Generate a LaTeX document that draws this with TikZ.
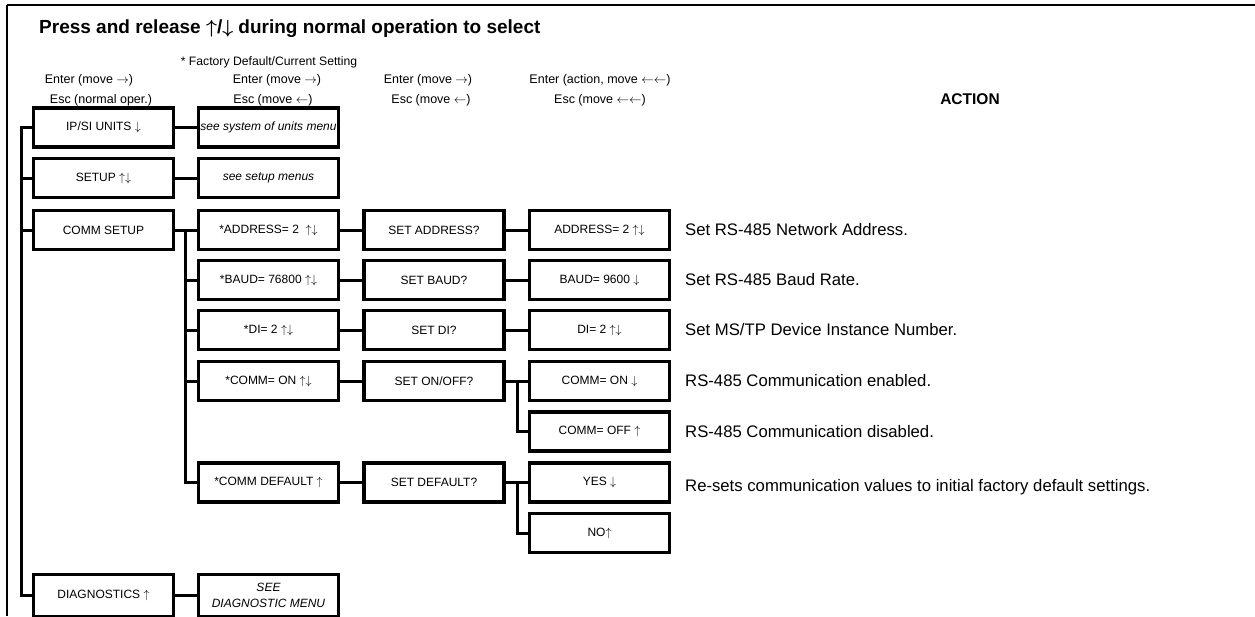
\RequirePackage{fix-cm}
\documentclass[tikz,border=0pt]{standalone}
\usepackage{fontspec}
\setmainfont{Liberation Sans}
\newcommand\arU{$\uparrow$}
\newcommand\arD{$\downarrow$}
\newcommand\arR{$\rightarrow$}
\newcommand\arL{$\leftarrow$}
\begin{document}
\begin{tikzpicture}[x=1pt,y=-1pt,
  menubox/.style={draw, line width=3.2pt, minimum width=140pt, minimum height=39pt,
    inner sep=0pt, align=center, font=\fontsize{12}{16}\selectfont},
  itbox/.style={menubox, font=\fontsize{12}{16}\selectfont\itshape},
  tallbox/.style={minimum height=42pt},
  link/.style={line width=3pt, line join=miter},
  hdr/.style={inner sep=0pt, font=\fontsize{12.5}{15}\selectfont},
  note/.style={inner sep=0pt, anchor=west, font=\fontsize{16.7}{19}\selectfont}]
\useasboundingbox (0,0) rectangle (1255,616);
\clip (0,0) rectangle (1255,616);

% frame
\draw[line width=2pt] (7,5) -- (1255,5);
\draw[line width=1.3pt] (7,5) -- (7,616);

% heading and column captions
\node[inner sep=0pt, anchor=west, font=\fontsize{19}{22}\selectfont\bfseries\boldmath] (title) at (39,29)
  {Press and release \arU/\arD\ during normal operation to select};
\node[hdr, font=\fontsize{12.2}{15}\selectfont] (fact) at (269,62) {* Factory Default/Current Setting};
\node[hdr] (en1) at (89,80) {Enter (move \arR)};
\node[hdr] (es1) at (101,100) {Esc (normal oper.)};
\node[hdr] (en2) at (277,80) {Enter (move \arR)};
\node[hdr] (es2) at (273,100) {Esc (move \arL)};
\node[hdr] (en3) at (428,80) {Enter (move \arR)};
\node[hdr] (es3) at (431,100) {Esc (move \arL)};
\node[hdr] (en4) at (600,80) {Enter (action, move \arL\arL)};
\node[hdr] (es4) at (600,100) {Esc (move \arL\arL)};
\node[inner sep=0pt, font=\fontsize{15.5}{18}\selectfont\bfseries] (act) at (970,99) {ACTION};

% first level
\node[menubox] (ip) at (103.5,127.5) {IP/SI UNITS \arD};
\node[menubox] (setup) at (103.5,178) {SETUP \arU\arD};
\node[menubox] (comm) at (103.5,230) {COMM SETUP};
\node[menubox, tallbox] (diag) at (103.5,595.5) {DIAGNOSTICS \arU};

% second level
\node[itbox] (units) at (268.5,127.5) {see system of units menu};
\node[itbox] (setupm) at (268.5,178) {see setup menus};
\node[menubox] (addr) at (268.5,230) {*ADDRESS= 2~ \arU\arD};
\node[menubox] (baud) at (268.5,280) {*BAUD= 76800 \arU\arD};
\node[menubox] (di) at (268.5,330) {*DI= 2 \arU\arD};
\node[menubox] (con) at (268.5,381) {*COMM= ON \arU\arD};
\node[menubox] (cdef) at (268.5,482.5) {*COMM DEFAULT \arU};
\node[itbox, tallbox] (diagm) at (268.5,595.5) {SEE\\DIAGNOSTIC MENU};

% third level
\node[menubox] (setaddr) at (434,230) {SET ADDRESS?};
\node[menubox] (setbaud) at (434,280) {SET BAUD?};
\node[menubox] (setdi) at (434,330) {SET DI?};
\node[menubox] (setonoff) at (434,381) {SET ON/OFF?};
\node[menubox] (setdef) at (434,482.5) {SET DEFAULT?};

% fourth level
\node[menubox] (vaddr) at (599.5,230) {ADDRESS= 2 \arU\arD};
\node[menubox] (vbaud) at (599.5,280) {BAUD= 9600 \arD};
\node[menubox] (vdi) at (599.5,330) {DI= 2 \arU\arD};
\node[menubox] (von) at (599.5,381) {COMM= ON \arD};
\node[menubox] (voff) at (599.5,431.5) {COMM= OFF \arU};
\node[menubox] (yes) at (599.5,482.5) {YES \arD};
\node[menubox] (no) at (599.5,533) {NO\arU};

% actions
\node[note] (naddr) at (685,230) {Set RS-485 Network Address.};
\node[note] (nbaud) at (685,280) {Set RS-485 Baud Rate.};
\node[note] (ndi) at (685,330) {Set MS/TP Device Instance Number.};
\node[note] (non) at (685,381) {RS-485 Communication enabled.};
\node[note] (noff) at (685,431.5) {RS-485 Communication disabled.};
\node[note] (ndef) at (685,487) {Re-sets communication values to initial factory default settings.};

% bus of the first level
\coordinate (b1a) at (21,127.5);
\coordinate (b1b) at (21,595.5);
\draw[link] (ip.west) -- (b1a) -- (b1b) -- (diag.west);
\draw[link] (setup.west) -- (setup.west -| b1a);
\draw[link] (comm.west) -- (comm.west -| b1a);

% first to second level
\draw[link] (ip.east) -- (units.west);
\draw[link] (setup.east) -- (setupm.west);
\draw[link] (diag.east) -- (diagm.west);
\draw[link] (comm.east) -- (addr.west);

% bus of the comm setup items
\coordinate (b2a) at (185,230);
\coordinate (b2b) at (185,482.5);
\draw[link] (b2a) -- (b2b) -- (cdef.west);
\draw[link] (baud.west) -- (baud.west -| b2a);
\draw[link] (di.west) -- (di.west -| b2a);
\draw[link] (con.west) -- (con.west -| b2a);

% second to third level
\draw[link] (addr.east) -- (setaddr.west);
\draw[link] (baud.east) -- (setbaud.west);
\draw[link] (di.east) -- (setdi.west);
\draw[link] (con.east) -- (setonoff.west);
\draw[link] (cdef.east) -- (setdef.west);

% third to fourth level
\draw[link] (setaddr.east) -- (vaddr.west);
\draw[link] (setbaud.east) -- (vbaud.west);
\draw[link] (setdi.east) -- (vdi.west);
\draw[link] (setonoff.east) -- (von.west);
\draw[link] (setdef.east) -- (yes.west);
\coordinate (b3a) at (517,381);
\coordinate (b3b) at (517,482.5);
\draw[link] (b3a) |- (voff.west);
\draw[link] (b3b) |- (no.west);
\end{tikzpicture}
\end{document}
